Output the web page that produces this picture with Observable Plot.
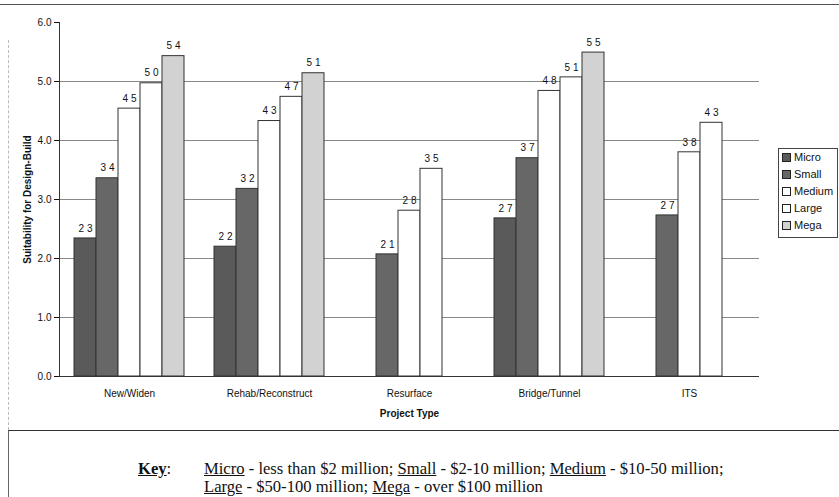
<!DOCTYPE html>
<html>
<head>
<meta charset="utf-8">
<script src="https://cdn.jsdelivr.net/npm/d3@7"></script>
<script src="https://cdn.jsdelivr.net/npm/@observablehq/plot@0.6"></script>
<style>
  body { margin: 0; background: #fff; }
  #wrap { position: relative; width: 839px; height: 497px; overflow: hidden; background: #fff; }
  #topline { position: absolute; left: 0; top: 4px; width: 839px; border-top: 1px solid #555; }
  #leftline { position: absolute; left: 8px; top: 40px; height: 390px; border-left: 1px dashed #bbb; }
  #chart { position: absolute; left: 0; top: 0; }
  #legend { position: absolute; left: 778px; top: 148px; width: 58px; height: 88px; border: 1px solid #444;
            font-family: "Liberation Sans", Arial, sans-serif; font-size: 11px; color: #111; background: #fff; }
  #legend .row { height: 17px; line-height: 17px; padding-left: 3px; white-space: nowrap; }
  #legend .sw { display: inline-block; width: 7px; height: 7px; border: 1px solid #222; margin-right: 3px; vertical-align: -1px; }
  #key { position: absolute; left: 8px; top: 430px; width: 831px; height: 67px; border-top: 1.5px solid #333; border-left: 1px solid #666; }
  .keytext { position: absolute; font-family: "Liberation Serif", "Times New Roman", serif; font-size: 16.6px; line-height: 17px; color: #111; white-space: nowrap; }
  g[aria-label="y-axis label"] text, g[aria-label="fx-axis label"] text { font-weight: bold; }
</style>
</head>
<body>
<div id="wrap">
  <div id="chart"></div>
  <div id="topline"></div>
  <div id="leftline"></div>
  <div id="legend"></div>
  <div id="key"></div>
</div>
<script>
// ---- data ----
const categories = ["New/Widen", "Rehab/Reconstruct", "Resurface", "Bridge/Tunnel", "ITS"];
const series = ["Micro", "Small", "Medium", "Large", "Mega"];
const micro  = [2.34, 2.20, null, 2.68, null];
const small  = [3.36, 3.18, 2.07, 3.70, 2.73];
const medium = [4.54, 4.33, 2.81, 4.84, 3.80];
const large  = [4.97, 4.74, 3.52, 5.07, 4.30];
const mega   = [5.43, 5.14, null, 5.49, null];
const yTicks = [0, 1, 2, 3, 4, 5, 6];
const gridTicks = [1, 2, 3, 4, 5];
const colors = ["#5a5a5a", "#676767", "#ffffff", "#ffffff", "#d2d2d2"];
const keyLine1 = [["Micro", " - less than $2 million; "], ["Small", " - $2-10 million; "], ["Medium", " - $10-50 million;"]];
const keyLine2 = [["Large", " - $50-100 million; "], ["Mega", " - over $100 million"]];

const seriesValues = [micro, small, medium, large, mega];
const rows = [];
series.forEach((s, si) => {
  categories.forEach((c, ci) => {
    const v = seriesValues[si][ci];
    if (v != null) rows.push({category: c, series: s, value: v});
  });
});
const fmt = d3.format(".1f");
const labelOf = d => fmt(d.value).replace(".", " ");

const chart = Plot.plot({
  width: 839,
  height: 430,
  marginLeft: 58,
  marginRight: 79,
  marginTop: 22,
  marginBottom: 54,
  style: {fontFamily: "Liberation Sans, Arial, sans-serif", fontSize: "10px", color: "#111", background: "transparent"},
  fx: {domain: categories, padding: 0},
  x: {domain: series, paddingInner: 0, paddingOuter: 0.68, axis: null},
  y: {domain: [0, 6]},
  color: {domain: series, range: colors},
  marks: [
    Plot.ruleY(gridTicks, {stroke: "#888", strokeWidth: 1}),
    Plot.barY(rows, {fx: "category", x: "series", y: "value", fill: "series", stroke: "#333", strokeWidth: 1}),
    Plot.text(rows, {fx: "category", x: "series", y: "value", text: labelOf, dy: -10, fontSize: 10}),
    Plot.ruleY([0], {stroke: "#333"}),
    Plot.frame({anchor: "left", facet: "super", stroke: "#333"}),
    Plot.axisY({ticks: yTicks, tickFormat: fmt, tickSize: 5, tickPadding: 3,
                label: "Suitability for Design-Build", labelAnchor: "center", labelOffset: 36, labelArrow: "none"}),
    Plot.axisFx({anchor: "bottom", tickSize: 0, tickPadding: 13,
                 label: "Project Type", labelAnchor: "center", labelOffset: 40, labelArrow: "none"})
  ]
});
document.getElementById("chart").appendChild(chart);

// legend
const legend = document.getElementById("legend");
series.forEach((s, i) => {
  const row = document.createElement("div");
  row.className = "row";
  const sw = document.createElement("span");
  sw.className = "sw";
  sw.style.background = colors[i];
  row.appendChild(sw);
  row.appendChild(document.createTextNode(s));
  legend.appendChild(row);
});

// key
const key = document.getElementById("key");
function addText(left, top, parts, boldUnderline) {
  const d = document.createElement("div");
  d.className = "keytext";
  d.style.left = left + "px";
  d.style.top = top + "px";
  parts.forEach(([u, rest]) => {
    const span = document.createElement("span");
    span.textContent = u;
    span.style.textDecoration = "underline";
    if (boldUnderline) span.style.fontWeight = "bold";
    d.appendChild(span);
    d.appendChild(document.createTextNode(rest));
  });
  key.appendChild(d);
}
addText(129, 29, [["Key", ":"]], true);
addText(195, 29, keyLine1, false);
addText(195, 47, keyLine2, false);
</script>
</body>
</html>
